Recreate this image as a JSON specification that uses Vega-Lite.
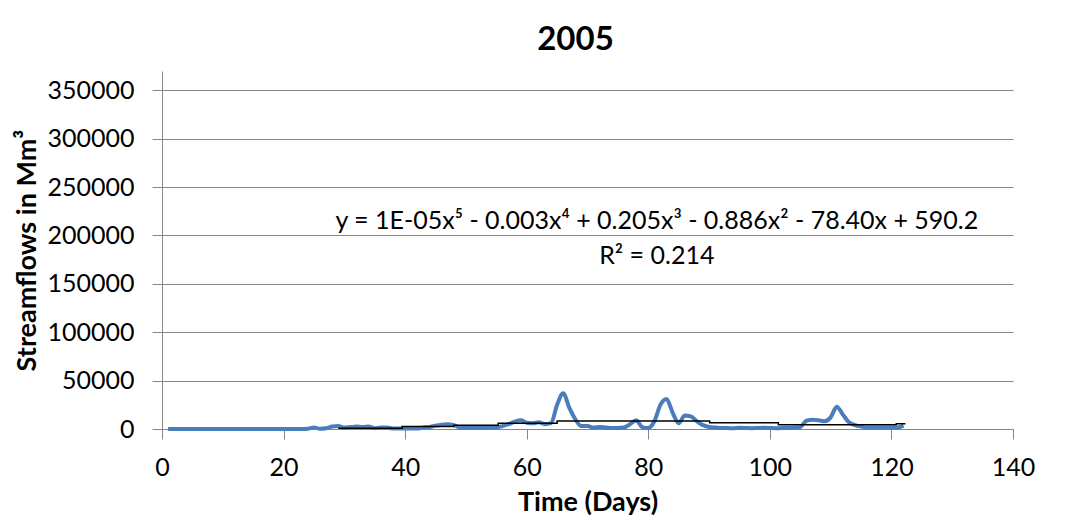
{
  "$schema": "https://vega.github.io/schema/vega-lite/v6.json",
  "width": 851,
  "height": 358,
  "autosize": {"type": "none"},
  "padding": {"left": 162, "top": 71, "right": 60, "bottom": 91},
  "background": "white",
  "config": {"font": "Lato", "view": {"stroke": null}},
  "title": {"text": "2005", "fontSize": 33, "fontWeight": "bold", "font": "Lato", "color": "#000000", "offset": 14, "dx": -12},
  "datasets": {
    "flow": [
      {"day": 1, "q": 0}, {"day": 2, "q": 0}, {"day": 3, "q": 0}, {"day": 4, "q": 0}, {"day": 5, "q": 0},
      {"day": 6, "q": 0}, {"day": 7, "q": 0}, {"day": 8, "q": 0}, {"day": 9, "q": 0}, {"day": 10, "q": 0},
      {"day": 11, "q": 0}, {"day": 12, "q": 0}, {"day": 13, "q": 0}, {"day": 14, "q": 0}, {"day": 15, "q": 0},
      {"day": 16, "q": 0}, {"day": 17, "q": 0}, {"day": 18, "q": 0}, {"day": 19, "q": 0}, {"day": 20, "q": 0},
      {"day": 21, "q": 0}, {"day": 22, "q": 0}, {"day": 23, "q": 0}, {"day": 24, "q": 300}, {"day": 25, "q": 1500},
      {"day": 26, "q": 300}, {"day": 27, "q": 800}, {"day": 28, "q": 2500}, {"day": 29, "q": 3000}, {"day": 30, "q": 1500},
      {"day": 31, "q": 2000}, {"day": 32, "q": 2500}, {"day": 33, "q": 2000}, {"day": 34, "q": 2500}, {"day": 35, "q": 800},
      {"day": 36, "q": 1500}, {"day": 37, "q": 1500}, {"day": 38, "q": 500}, {"day": 39, "q": 500}, {"day": 40, "q": 400},
      {"day": 41, "q": 500}, {"day": 42, "q": 500}, {"day": 43, "q": 1500}, {"day": 44, "q": 2000}, {"day": 45, "q": 3500},
      {"day": 46, "q": 4500}, {"day": 47, "q": 5000}, {"day": 48, "q": 4000}, {"day": 49, "q": 1500}, {"day": 50, "q": 1000},
      {"day": 51, "q": 1000}, {"day": 52, "q": 1000}, {"day": 53, "q": 1000}, {"day": 54, "q": 1200}, {"day": 55, "q": 1500},
      {"day": 56, "q": 3000}, {"day": 57, "q": 5000}, {"day": 58, "q": 7500}, {"day": 59, "q": 9000}, {"day": 60, "q": 6500},
      {"day": 61, "q": 6000}, {"day": 62, "q": 7000}, {"day": 63, "q": 5000}, {"day": 64, "q": 6000}, {"day": 65, "q": 25000},
      {"day": 66, "q": 37000}, {"day": 67, "q": 22000}, {"day": 68, "q": 10000}, {"day": 69, "q": 3000}, {"day": 70, "q": 3000},
      {"day": 71, "q": 1500}, {"day": 72, "q": 2000}, {"day": 73, "q": 1500}, {"day": 74, "q": 1000}, {"day": 75, "q": 1000},
      {"day": 76, "q": 1500}, {"day": 77, "q": 5000}, {"day": 78, "q": 9000}, {"day": 79, "q": 2000}, {"day": 80, "q": 1000},
      {"day": 81, "q": 8000}, {"day": 82, "q": 25000}, {"day": 83, "q": 31000}, {"day": 84, "q": 17000}, {"day": 85, "q": 6000},
      {"day": 86, "q": 14000}, {"day": 87, "q": 13000}, {"day": 88, "q": 8000}, {"day": 89, "q": 4000}, {"day": 90, "q": 2000},
      {"day": 91, "q": 1500}, {"day": 92, "q": 1000}, {"day": 93, "q": 1000}, {"day": 94, "q": 800}, {"day": 95, "q": 1200},
      {"day": 96, "q": 1000}, {"day": 97, "q": 800}, {"day": 98, "q": 1000}, {"day": 99, "q": 1200}, {"day": 100, "q": 1000},
      {"day": 101, "q": 800}, {"day": 102, "q": 1000}, {"day": 103, "q": 1000}, {"day": 104, "q": 1200}, {"day": 105, "q": 2000},
      {"day": 106, "q": 8500}, {"day": 107, "q": 9500}, {"day": 108, "q": 9000}, {"day": 109, "q": 8000}, {"day": 110, "q": 12000},
      {"day": 111, "q": 23000}, {"day": 112, "q": 15000}, {"day": 113, "q": 7000}, {"day": 114, "q": 4000}, {"day": 115, "q": 2500},
      {"day": 116, "q": 1500}, {"day": 117, "q": 1500}, {"day": 118, "q": 1500}, {"day": 119, "q": 1500}, {"day": 120, "q": 1500},
      {"day": 121, "q": 1500}, {"day": 122, "q": 3500}
    ],
    "trend": [
      {"day": 29, "q": 800}, {"day": 39.5, "q": 2500}, {"day": 48, "q": 4000}, {"day": 55.3, "q": 6000},
      {"day": 65, "q": 8300}, {"day": 90.1, "q": 6500}, {"day": 101.4, "q": 4300}, {"day": 120.8, "q": 5500},
      {"day": 122.3, "q": 5500}
    ],
    "notes": [
      {"day": 81.4, "q": 215000, "label": "y = 1E-05x⁵ - 0.003x⁴ + 0.205x³ - 0.886x² - 78.40x + 590.2"},
      {"day": 81.4, "q": 178700, "label": "R² = 0.214"}
    ]
  },
  "layer": [
    {
      "data": {"name": "flow"},
      "mark": {"type": "line", "color": "#4A7EBB", "strokeWidth": 4, "interpolate": "monotone"},
      "encoding": {
        "x": {
          "field": "day", "type": "quantitative",
          "scale": {"domain": [0, 140], "nice": false},
          "axis": {
            "values": [0, 20, 40, 60, 80, 100, 120, 140],
            "grid": false, "domainColor": "#868686", "tickColor": "#868686", "tickSize": 10,
            "labelFontSize": 25, "labelColor": "#000000", "labelPadding": 16, "labelFlush": false,
            "title": "Time (Days)", "titleFontSize": 27, "titleFontWeight": "bold", "titleColor": "#000000", "titlePadding": 9
          }
        },
        "y": {
          "field": "q", "type": "quantitative",
          "scale": {"domain": [0, 370000], "nice": false},
          "axis": {
            "values": [0, 50000, 100000, 150000, 200000, 250000, 300000, 350000],
            "format": "d",
            "grid": true, "gridColor": "#868686", "domainColor": "#868686", "tickColor": "#868686", "tickSize": 10,
            "labelFontSize": 25, "labelColor": "#000000", "labelPadding": 18,
            "title": "Streamflows in Mm³", "titleFontSize": 27, "titleFontWeight": "bold", "titleColor": "#000000", "titlePadding": 5
          }
        }
      }
    },
    {
      "data": {"name": "trend"},
      "mark": {"type": "line", "color": "#000000", "strokeWidth": 1.5, "interpolate": "step-after"},
      "encoding": {
        "x": {"field": "day", "type": "quantitative"},
        "y": {"field": "q", "type": "quantitative"}
      }
    },
    {
      "data": {"name": "notes"},
      "mark": {"type": "text", "fontSize": 25, "align": "center", "baseline": "middle", "color": "#000000", "font": "Lato"},
      "encoding": {
        "x": {"field": "day", "type": "quantitative"},
        "y": {"field": "q", "type": "quantitative"},
        "text": {"field": "label"}
      }
    }
  ]
}
